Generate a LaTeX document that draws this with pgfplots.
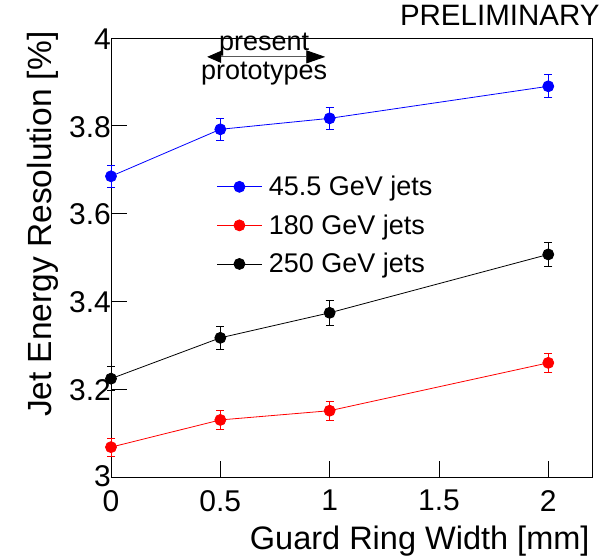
\documentclass[border=0pt]{standalone}
\usepackage{fontspec}
\setmainfont{Liberation Sans}
\usepackage{pgfplots}
\pgfplotsset{compat=1.18}
\usetikzlibrary{arrows.meta}
\begin{document}
\begin{tikzpicture}[x=1pt,y=1pt]
\useasboundingbox (0,0) rectangle (607,557);
\begin{axis}[
  at={(111pt,80pt)}, anchor=south west,
  scale only axis, width=481pt, height=439pt,
  xmin=0, xmax=2.2, ymin=3, ymax=4,
  xtick={0,0.5,1,1.5,2}, xticklabels={0,0.5,1,1.5,2},
  ytick={3,3.2,3.4,3.6,3.8,4}, yticklabels={\raisebox{-8.5pt}[0pt][0pt]{3},3.2,3.4,3.6,3.8,4},
  xtick pos=bottom, ytick pos=left, tick align=inside,
  major tick length=16pt,
  tick style={black, line width=0.6pt},
  axis line style={line width=0.9pt},
  ticklabel style={font=\fontsize{30}{32}\selectfont, inner sep=1pt},
  yticklabel style={xshift=1pt, yshift=-1pt},
  xticklabel style={yshift=-12pt},
  clip=false,
  every axis plot/.append style={line width=0.8pt},
  error bars/error bar style={line width=0.8pt},
  error bars/error mark options={rotate=90, mark size=4pt, line width=0.8pt},
  legend style={at={(axis description cs:0.22,0.69)}, anchor=north west,
    draw=none, fill=none, font=\fontsize{27}{29}\selectfont,
    row sep=13.5pt, inner sep=0pt, legend cell align=left,
    nodes={inner xsep=6pt}},
  legend image code/.code={\draw[mark repeat=2, mark phase=2] plot coordinates {(0pt,0pt) (22pt,0pt) (45pt,0pt)};},
]
\addplot+[blue, mark=*, mark size=5.5pt, mark options={fill=blue, draw=blue},
  error bars/.cd, y dir=both, y explicit]
  coordinates {(0,3.685) +- (0,0.025) (0.5,3.792) +- (0,0.025) (1,3.817) +- (0,0.026) (2,3.890) +- (0,0.026)};
\addlegendentry{45.5 GeV jets}
\addplot+[red, mark=*, mark size=5.5pt, mark options={fill=red, draw=red},
  error bars/.cd, y dir=both, y explicit]
  coordinates {(0,3.068) +- (0,0.021) (0.5,3.130) +- (0,0.021) (1,3.151) +- (0,0.022) (2,3.260) +- (0,0.022)};
\addlegendentry{180 GeV jets}
\addplot+[black, mark=*, mark size=5.5pt, mark options={fill=black, draw=black},
  error bars/.cd, y dir=both, y explicit]
  coordinates {(0,3.224) +- (0,0.027) (0.5,3.317) +- (0,0.027) (1,3.374) +- (0,0.028) (2,3.507) +- (0,0.028)};
\addlegendentry{250 GeV jets}
\draw[gray!70!black, line width=0.8pt, {Triangle[length=14pt,width=12pt,black]}-{Triangle[length=19pt,width=13pt,black]}]
  (axis cs:0.44,3.957) -- (axis cs:0.98,3.957);
\node[font=\fontsize{27}{29}\selectfont, anchor=center] at (axis cs:0.70,3.985) {present};
\node[font=\fontsize{27}{29}\selectfont, anchor=center] at (axis cs:0.70,3.92) {prototypes};
\end{axis}
\node[font=\fontsize{29.5}{31}\selectfont, anchor=base east] at (603,531) {PRELIMINARY};
\node[font=\fontsize{32.5}{34}\selectfont, anchor=base east] at (593,8) {Guard Ring Width [mm]};
\node[font=\fontsize{33.5}{35}\selectfont, rotate=90, anchor=base east] at (51,529) {Jet Energy Resolution [\%]};
\end{tikzpicture}
\end{document}
